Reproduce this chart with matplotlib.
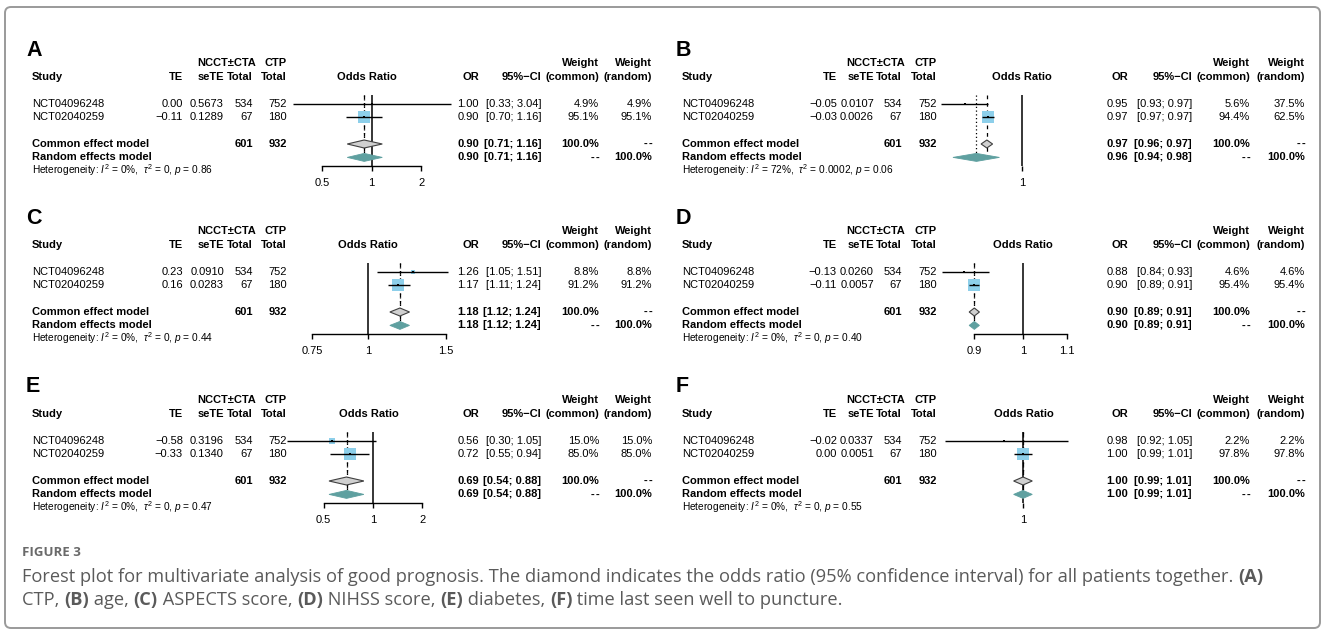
import numpy as np
import matplotlib
matplotlib.use("Agg")
import matplotlib.pyplot as plt
from matplotlib.patches import Polygon, FancyBboxPatch
from matplotlib.ticker import FixedLocator, FixedFormatter, NullLocator

# ---------------- data ----------------
panels = ["A", "B", "C", "D", "E", "F"]
studies = ["NCT04096248", "NCT02040259"]
n_ncct = [534, 67]
n_ctp = [752, 180]
tot_ncct = 601
tot_ctp = 932

te_vals = [[0.00, -0.11], [-0.05, -0.03], [0.23, 0.16], [-0.13, -0.11], [-0.58, -0.33], [-0.02, 0.00]]
se_vals = [[0.5673, 0.1289], [0.0107, 0.0026], [0.0910, 0.0283], [0.0260, 0.0057], [0.3196, 0.1340], [0.0337, 0.0051]]
or_vals = [[1.00, 0.90], [0.95, 0.97], [1.26, 1.17], [0.88, 0.90], [0.56, 0.72], [0.98, 1.00]]
ci_lo = [[0.33, 0.70], [0.93, 0.97], [1.05, 1.11], [0.84, 0.89], [0.30, 0.55], [0.92, 0.99]]
ci_hi = [[3.04, 1.16], [0.97, 0.97], [1.51, 1.24], [0.93, 0.91], [1.05, 0.94], [1.05, 1.01]]
# drawn extents where the printed rounding collapses the interval
ci_lo_draw = [[0.33, 0.70], [0.93, 0.965], [1.05, 1.11], [0.84, 0.89], [0.30, 0.55], [0.92, 0.99]]
ci_hi_draw = [[3.04, 1.16], [0.97, 0.975], [1.51, 1.24], [0.93, 0.91], [1.05, 0.94], [1.05, 1.01]]
w_common = [[4.9, 95.1], [5.6, 94.4], [8.8, 91.2], [4.6, 95.4], [15.0, 85.0], [2.2, 97.8]]
w_random = [[4.9, 95.1], [37.5, 62.5], [8.8, 91.2], [4.6, 95.4], [15.0, 85.0], [2.2, 97.8]]
common_est = [0.90, 0.97, 1.18, 0.90, 0.69, 1.00]
common_lo = [0.71, 0.96, 1.12, 0.89, 0.54, 0.99]
common_hi = [1.16, 0.97, 1.24, 0.91, 0.88, 1.01]
common_draw = [[0.71, 0.90, 1.16], [0.964, 0.969, 0.974], [1.12, 1.18, 1.24],
               [0.89, 0.90, 0.91], [0.54, 0.69, 0.88], [0.99, 1.00, 1.01]]
random_est = [0.90, 0.96, 1.18, 0.90, 0.69, 1.00]
random_lo = [0.71, 0.94, 1.12, 0.89, 0.54, 0.99]
random_hi = [1.16, 0.98, 1.24, 0.91, 0.88, 1.01]
het_i2 = [0, 72, 0, 0, 0, 0]
het_tau2 = ["0", "0.0002", "0", "0", "0", "0"]
het_p = [0.86, 0.06, 0.44, 0.40, 0.47, 0.55]
axis_ticks = [[0.5, 1, 2], [1], [0.75, 1, 1.5], [0.9, 1, 1.1], [0.5, 1, 2], [1]]
axis_tick_labels = [["0.5", "1", "2"], ["1"], ["0.75", "1", "1.5"], ["0.9", "1", "1.1"], ["0.5", "1", "2"], ["1"]]

caption_title = "FIGURE 3"
caption_line1 = [("Forest plot for multivariate analysis of good prognosis. The diamond indicates the odds ratio "
                  "(95% confidence interval) for all patients together. ", False), ("(A)", True)]
caption_line2 = [("CTP, ", False), ("(B)", True), (" age, ", False), ("(C)", True), (" ASPECTS score, ", False),
                 ("(D)", True), (" NIHSS score, ", False), ("(E)", True), (" diabetes, ", False), ("(F)", True),
                 (" time last seen well to puncture.", False)]

# ---------------- layout ----------------
W, H, DPI = 1328, 634, 100
FONT = "Liberation Sans"
FS = 8.0
SQ_COL = "#8dcfea"
RND_COL = "#5fa0a0"
CMN_COL = "#d0d0d0"

cols = {
    "left": dict(label=26, study=32, te=183, sete=224, nt=253, ct=287, orr=479, ci=541, wc=599, wr=652),
    "right": dict(label=676, study=682, te=837, sete=874, nt=902, ct=937, orr=1128, ci=1192, wc=1250, wr=1305),
}
side = ["left", "right"] * 3
forest_x1 = [371.7, 1022, 368, 1023, 373, 1023]
forest_k = [71.4, 1116, 193, 462, 71.4, 932]
or_head_x = [367, 1022, 368, 1023, 369, 1024]
panel_dy = [0, 0, 168, 168, 337, 337]
Y = dict(label=50, h1=63, h2=77, r1=104, r2=117.4, cm=144, rn=157.4, het=170.5, axis=166)

plt.rcParams["mathtext.fontset"] = "custom"
plt.rcParams["mathtext.rm"] = FONT
plt.rcParams["mathtext.it"] = FONT + ":italic"
plt.rcParams["mathtext.bf"] = FONT + ":bold"

fig = plt.figure(figsize=(W / DPI, H / DPI), dpi=DPI, facecolor="white")
bg = fig.add_axes([0, 0, 1, 1])
bg.set_xlim(0, W)
bg.set_ylim(H, 0)
bg.axis("off")


def txt(x, y, s, ha="left", bold=False, size=FS, **kw):
    bg.text(x, y, s, ha=ha, va="center", fontsize=size, family=FONT,
            fontweight="bold" if bold else "normal", **kw)


def dashes(x_right, y):
    # "--" printed as two separate hyphens
    txt(x_right, y, "-", ha="right", bold=True)
    txt(x_right - 4.4, y, "-", ha="right", bold=True)


def f2(v):
    return f"{v:.2f}".replace("-", "\u2212")


for i, p in enumerate(panels):
    c = cols[side[i]]
    dy = panel_dy[i]
    yy = {k: v + dy for k, v in Y.items()}
    bg.text(c["label"], yy["label"], p, ha="left", va="center", fontsize=15.5, family=FONT, fontweight="bold")
    # headers
    txt(c["nt"] + 3, yy["h1"], "NCCT\u00b1CTA", ha="right", bold=True)
    txt(c["ct"], yy["h1"], "CTP", ha="right", bold=True)
    txt(c["wc"], yy["h1"], "Weight", ha="right", bold=True)
    txt(c["wr"], yy["h1"], "Weight", ha="right", bold=True)
    txt(c["study"], yy["h2"], "Study", bold=True)
    txt(c["te"], yy["h2"], "TE", ha="right", bold=True)
    txt(c["sete"], yy["h2"], "seTE", ha="right", bold=True)
    txt(c["nt"], yy["h2"], "Total", ha="right", bold=True)
    txt(c["ct"], yy["h2"], "Total", ha="right", bold=True)
    txt(or_head_x[i], yy["h2"], "Odds Ratio", ha="center", bold=True)
    txt(c["orr"], yy["h2"], "OR", ha="right", bold=True)
    txt(c["ci"], yy["h2"], "95%\u2212CI", ha="right", bold=True)
    txt(c["wc"], yy["h2"], "(common)", ha="right", bold=True)
    txt(c["wr"], yy["h2"], "(random)", ha="right", bold=True)
    # study rows
    rows_y = [yy["r1"], yy["r2"]]
    for j, s in enumerate(studies):
        y = rows_y[j]
        txt(c["study"], y, s)
        txt(c["te"], y, f2(te_vals[i][j]), ha="right")
        txt(c["sete"], y, f"{se_vals[i][j]:.4f}", ha="right")
        txt(c["nt"], y, str(n_ncct[j]), ha="right")
        txt(c["ct"], y, str(n_ctp[j]), ha="right")
        txt(c["orr"], y, f2(or_vals[i][j]), ha="right")
        txt(c["ci"], y, f"[{f2(ci_lo[i][j])}; {f2(ci_hi[i][j])}]", ha="right")
        txt(c["wc"], y, f"{w_common[i][j]:.1f}%", ha="right")
        txt(c["wr"], y, f"{w_random[i][j]:.1f}%", ha="right")
    # summary rows
    y = yy["cm"]
    txt(c["study"], y, "Common effect model", bold=True)
    txt(c["nt"], y, str(tot_ncct), ha="right", bold=True)
    txt(c["ct"], y, str(tot_ctp), ha="right", bold=True)
    txt(c["orr"], y, f2(common_est[i]), ha="right", bold=True)
    txt(c["ci"], y, f"[{f2(common_lo[i])}; {f2(common_hi[i])}]", ha="right", bold=True)
    txt(c["wc"], y, "100.0%", ha="right", bold=True)
    dashes(c["wr"], y)
    y = yy["rn"]
    txt(c["study"], y, "Random effects model", bold=True)
    txt(c["orr"], y, f2(random_est[i]), ha="right", bold=True)
    txt(c["ci"], y, f"[{f2(random_lo[i])}; {f2(random_hi[i])}]", ha="right", bold=True)
    dashes(c["wc"], y)
    txt(c["wr"], y, "100.0%", ha="right", bold=True)
    het = (f"Heterogeneity: $I^2$ = {het_i2[i]}%,  $\\tau^2$ = {het_tau2[i]}, "
           f"$p$ = {het_p[i]:.2f}")
    txt(c["study"], yy["het"], het, size=7.3)

    # ---- forest axes ----
    x1, k = forest_x1[i], forest_k[i]
    cd = common_draw[i]
    allv = ci_lo_draw[i] + ci_hi_draw[i] + [cd[0], cd[2], random_lo[i], random_hi[i]] + axis_ticks[i]
    pxs = [x1 + k * np.log(v) for v in allv]
    xa, xb = min(pxs) - 4, max(pxs) + 4
    ytop, ybot = yy["r1"] - 9, yy["axis"]
    ax = fig.add_axes([xa / W, 1 - ybot / H, (xb - xa) / W, (ybot - ytop) / H])
    ax.set_xscale("log")
    ax.set_xlim(np.exp((xa - x1) / k), np.exp((xb - x1) / k))
    ax.set_ylim(ybot, ytop)
    ax.patch.set_alpha(0)
    for sp in ["left", "right", "top"]:
        ax.spines[sp].set_visible(False)
    ax.spines["bottom"].set_bounds(min(axis_ticks[i]), max(axis_ticks[i]))
    ax.spines["bottom"].set_linewidth(1.0)
    ax.yaxis.set_visible(False)
    ax.xaxis.set_major_locator(FixedLocator(axis_ticks[i]))
    ax.xaxis.set_major_formatter(FixedFormatter(axis_tick_labels[i]))
    ax.xaxis.set_minor_locator(NullLocator())
    ax.tick_params(axis="x", direction="out", length=3.6, width=1.0, pad=5.0, labelsize=FS)
    for lab in ax.get_xticklabels():
        lab.set_family(FONT)
    ax.axvline(1.0, color="black", lw=1.1, zorder=1)
    ax.plot([cd[1]] * 2, [ytop, yy["rn"]], color="black", lw=0.9, ls=(0, (3, 3)), zorder=1)
    ax.plot([random_est[i]] * 2, [ytop, yy["rn"]], color="black", lw=0.9, ls=(0, (1, 2)), zorder=1)
    wmax = max(w_common[i])
    for j in range(2):
        y = rows_y[j]
        side_px = max(12.0 * np.sqrt(w_common[i][j] / wmax), 1.5)
        ax.scatter([or_vals[i][j]], [y], marker="s", s=(side_px * 72 / DPI) ** 2, color=SQ_COL,
                   linewidths=0, zorder=2)
        ax.plot([ci_lo_draw[i][j], ci_hi_draw[i][j]], [y, y], color="black", lw=1.0, zorder=3,
                solid_capstyle="butt", clip_on=False)
        ax.plot([or_vals[i][j]], [y], marker="s", ms=2.0, color="black", mew=0, zorder=4)
    hh = 4.0
    y = yy["cm"]
    ax.add_patch(Polygon([(cd[0], y), (cd[1], y - hh), (cd[2], y), (cd[1], y + hh)],
                         closed=True, facecolor=CMN_COL, edgecolor="#404040", lw=0.8, zorder=3))
    y = yy["rn"]
    ax.add_patch(Polygon([(random_lo[i], y), (random_est[i], y - hh), (random_hi[i], y), (random_est[i], y + hh)],
                         closed=True, facecolor=RND_COL, edgecolor=RND_COL, lw=0.6, zorder=3))

# ---------------- border ----------------
bg.add_patch(FancyBboxPatch((5, 7), 1315, 621, boxstyle="round,pad=0,rounding_size=6",
                            facecolor="none", edgecolor="#9a9a9a", lw=1.4))

# ---------------- caption ----------------
renderer = fig.canvas.get_renderer()
CAP_FONT = ["Open Sans", "DejaVu Sans"]


def width_of(s, size, bold):
    kw = dict(fontsize=size, family=CAP_FONT, fontweight="bold" if bold else "normal")
    t1 = bg.text(0, 0, "|" + s + "|", **kw)
    w1 = t1.get_window_extent(renderer).width
    t1.remove()
    t2 = bg.text(0, 0, "||", **kw)
    w2 = t2.get_window_extent(renderer).width
    t2.remove()
    return w1 - w2


def line_width(parts, size):
    return sum(width_of(s, size, b) for s, b in parts)


cap_size = 11.0 * 1246.0 / line_width(caption_line1, 11.0)


def rich(x, y, parts, size, color):
    for s, b in parts:
        bg.text(x, y, s, ha="left", va="baseline", fontsize=size, family=CAP_FONT,
                fontweight="bold" if b else "normal", color=color)
        x += width_of(s, size, b)


bg.text(22, 556, caption_title, ha="left", va="baseline", fontsize=9.5, family=CAP_FONT,
        fontweight="bold", color="#6a6a6a")
rich(22, 582, caption_line1, cap_size, "#5a5a5a")
rich(22, 605, caption_line2, cap_size, "#5a5a5a")

fig.savefig("out.png", dpi=DPI, facecolor="white")
